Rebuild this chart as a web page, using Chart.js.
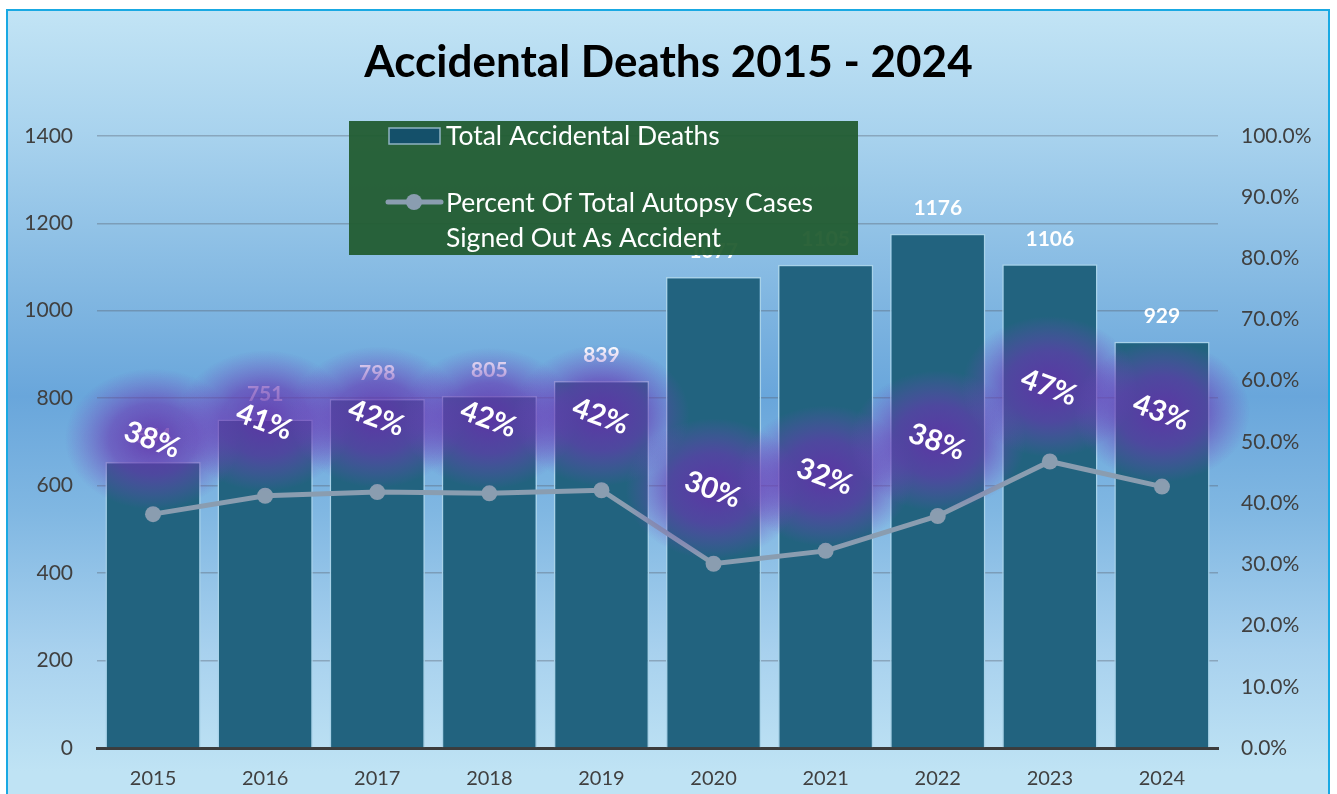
<!DOCTYPE html>
<html>
<head>
<meta charset="utf-8">
<script src="https://cdn.jsdelivr.net/npm/chart.js@4"></script>
<style>
  html, body { margin: 0; padding: 0; background: #fff; overflow: hidden; }
  #wrap { position: relative; width: 1337px; height: 794px; }
  #frame {
    position: absolute; left: 6px; top: 9px; width: 1320px; height: 800px;
    border: 2px solid #19a9e3;
    background: linear-gradient(to bottom,
      #c2e4f5 0px, #a9d3ee 120px, #80b6e1 290px, #69a6db 385px,
      #80b7e2 500px, #a8d1ee 640px, #bfe3f4 760px);
  }
  #chart { position: absolute; left: 0; top: 0; }
</style>
</head>
<body>
<div id="wrap">
  <div id="frame"></div>
  <canvas id="chart" width="1337" height="794"></canvas>
</div>
<script>
const years = ['2015', '2016', '2017', '2018', '2019', '2020', '2021', '2022', '2023', '2024'];
const totalDeaths = [654, 751, 798, 805, 839, 1077, 1105, 1176, 1106, 929];
const percentAccident = [38.2, 41.2, 41.8, 41.6, 42.1, 30.1, 32.2, 37.9, 46.8, 42.7];

const barLabel = 'Total Accidental Deaths';
const lineLabel = ['Percent Of Total Autopsy Cases', 'Signed Out As Accident'];

const fontFamily = 'Lato, "Open Sans", sans-serif';

// value labels, purple glow percent labels and the green legend box
const overlayPlugin = {
  id: 'overlay',
  afterDatasetsDraw(chart) {
    const ctx = chart.ctx;
    const barMeta = chart.getDatasetMeta(1);
    const lineMeta = chart.getDatasetMeta(0);

    ctx.save();
    ctx.font = 'bold 21px ' + fontFamily;
    ctx.fillStyle = '#ffffff';
    ctx.textAlign = 'center';
    ctx.textBaseline = 'bottom';
    barMeta.data.forEach((bar, i) => {
      ctx.fillText(totalDeaths[i], bar.x, bar.y - 15);
    });
    ctx.restore();

    // glow blobs
    lineMeta.data.forEach((pt) => {
      const cx = pt.x, cy = pt.y - 75;
      ctx.save();
      ctx.translate(cx, cy);
      ctx.scale(1, 0.8);
      const g = ctx.createRadialGradient(0, 0, 0, 0, 0, 88);
      g.addColorStop(0, 'rgba(98,48,168,0.88)');
      g.addColorStop(0.5, 'rgba(105,55,178,0.62)');
      g.addColorStop(1, 'rgba(120,70,195,0)');
      ctx.fillStyle = g;
      ctx.beginPath();
      ctx.arc(0, 0, 88, 0, Math.PI * 2);
      ctx.fill();
      ctx.restore();
    });

    lineMeta.data.forEach((pt, i) => {
      ctx.save();
      ctx.translate(pt.x - 1, pt.y - 74);
      ctx.rotate(20 * Math.PI / 180);
      ctx.font = 'bold 29px ' + fontFamily;
      ctx.fillStyle = '#ffffff';
      ctx.textAlign = 'center';
      ctx.textBaseline = 'middle';
      ctx.fillText(Math.round(percentAccident[i]) + '%', 0, 0);
      ctx.restore();
    });
  },
  afterDraw(chart) {
    const ctx = chart.ctx;
    ctx.save();
    ctx.fillStyle = 'rgba(34,92,48,0.95)';
    ctx.fillRect(349, 121, 509, 134);

    ctx.fillStyle = '#14506a';
    ctx.strokeStyle = '#8fb3c2';
    ctx.lineWidth = 1.5;
    ctx.fillRect(389, 128, 51, 16);
    ctx.strokeRect(389, 128, 51, 16);

    ctx.strokeStyle = '#8a9db0';
    ctx.lineWidth = 5;
    ctx.lineCap = 'round';
    ctx.beginPath();
    ctx.moveTo(388, 202);
    ctx.lineTo(441, 202);
    ctx.stroke();
    ctx.fillStyle = '#8a9db0';
    ctx.beginPath();
    ctx.arc(414, 202, 8, 0, Math.PI * 2);
    ctx.fill();

    ctx.font = '26.5px ' + fontFamily;
    ctx.fillStyle = '#ffffff';
    ctx.textAlign = 'left';
    ctx.textBaseline = 'middle';
    ctx.fillText(barLabel, 446, 136);
    ctx.fillText(lineLabel[0], 446, 203);
    ctx.fillText(lineLabel[1], 446, 238);
    ctx.restore();
  }
};

new Chart(document.getElementById('chart'), {
  data: {
    labels: years,
    datasets: [
      {
        type: 'line',
        label: lineLabel.join(' '),
        data: percentAccident,
        yAxisID: 'y1',
        borderColor: '#8a9db0',
        backgroundColor: '#8a9db0',
        borderWidth: 5,
        pointRadius: 8,
        pointHoverRadius: 8,
        pointBorderWidth: 0,
        tension: 0,
        order: 0
      },
      {
        type: 'bar',
        label: barLabel,
        data: totalDeaths,
        yAxisID: 'y',
        backgroundColor: '#22637f',
        borderColor: '#a8d2e8',
        borderWidth: 1.5,
        categoryPercentage: 1,
        barPercentage: 0.85,
        order: 1
      }
    ]
  },
  options: {
    responsive: false,
    animation: false,
    layout: { padding: { left: 0, right: 0, top: 0, bottom: 0 } },
    plugins: {
      legend: { display: false },
      tooltip: { enabled: false },
      title: {
        display: true,
        text: 'Accidental Deaths 2015 - 2024',
        color: '#000000',
        font: { family: fontFamily, size: 44, weight: 'bold', lineHeight: 1.2 },
        padding: { top: 36, bottom: 47 }
      }
    },
    scales: {
      x: {
        grid: { display: false, drawTicks: false },
        border: { display: true, color: '#3c3c3c', width: 3 },
        ticks: { color: '#404040', font: { family: fontFamily, size: 20 }, padding: 19 },
        afterFit(s) { s.height = 46; }
      },
      y: {
        position: 'left',
        min: 0,
        max: 1400,
        ticks: {
          stepSize: 200,
          color: '#404040',
          font: { family: fontFamily, size: 21 },
          padding: 24,
          callback: (v) => String(v)
        },
        grid: { color: 'rgba(90,100,115,0.4)', lineWidth: 1.5, drawTicks: false },
        border: { display: false },
        afterFit(s) { s.width = 97; }
      },
      y1: {
        position: 'right',
        min: 0,
        max: 100,
        ticks: {
          stepSize: 10,
          color: '#404040',
          font: { family: fontFamily, size: 21 },
          padding: 23,
          callback: (v) => v.toFixed(1) + '%'
        },
        grid: { display: false, drawTicks: false },
        border: { display: false },
        afterFit(s) { s.width = 119; }
      }
    }
  },
  plugins: [overlayPlugin]
});
</script>
</body>
</html>
